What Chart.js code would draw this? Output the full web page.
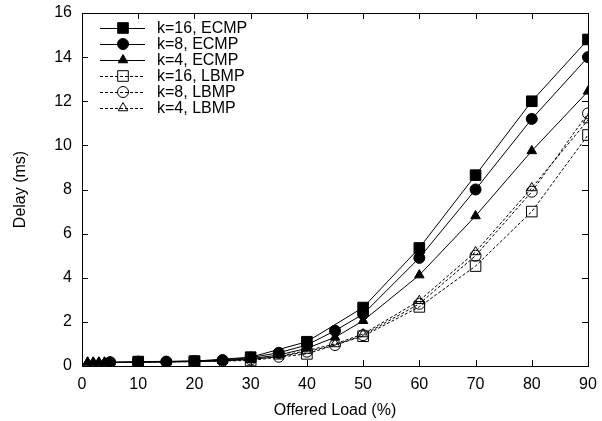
<!DOCTYPE html>
<html>
<head>
<meta charset="utf-8">
<script src="https://cdn.jsdelivr.net/npm/chart.js@4.4.1/dist/chart.umd.min.js"></script>
<style>
  body { margin: 0; background: #fff; }
  #wrap { width: 602px; height: 421px; }
</style>
</head>
<body>
<div id="wrap"><canvas id="myChart" width="602" height="421"></canvas></div>
<script>
// --- dados ---
var loadK16 = [10, 20, 30, 40, 50, 60, 70, 80, 90];
var loadK8  = [5, 10, 15, 20, 25, 30, 35, 40, 45, 50, 60, 70, 80, 90];
var loadK4  = [1, 2, 3, 4, 5, 10, 15, 20, 25, 30, 35, 40, 45, 50, 60, 70, 80, 90];

var ecmpK16 = [0.2, 0.22, 0.4, 1.1, 2.65, 5.35, 8.65, 12.0, 14.8];
var ecmpK8  = [0.17, 0.2, 0.2, 0.22, 0.27, 0.38, 0.6, 0.95, 1.6, 2.35, 4.9, 8.0, 11.2, 14.0];
var ecmpK4  = [0.17, 0.17, 0.17, 0.17, 0.17, 0.18, 0.2, 0.22, 0.25, 0.33, 0.5, 0.8, 1.3, 2.05, 4.12, 6.8, 9.75, 12.45];

var lbmpK16 = [0.17, 0.2, 0.25, 0.55, 1.35, 2.68, 4.53, 7.0, 10.47];
var lbmpK8  = [0.16, 0.17, 0.18, 0.2, 0.23, 0.3, 0.42, 0.65, 0.95, 1.4, 2.82, 5.0, 7.9, 11.45];
var lbmpK4  = [0.16, 0.16, 0.16, 0.16, 0.16, 0.17, 0.18, 0.2, 0.23, 0.3, 0.44, 0.7, 1.0, 1.45, 2.96, 5.17, 8.07, 11.15];

var xTicks = [0, 10, 20, 30, 40, 50, 60, 70, 80, 90];
var yTicks = [0, 2, 4, 6, 8, 10, 12, 14, 16];

function pts(xs, ys) {
  return xs.map(function (x, i) { return { x: x, y: ys[i] }; });
}

var FONT = 'Liberation Sans, Arial, sans-serif';
var FSIZE = 16;

function serie(label, xs, ys, style, radius, open, dashed, order) {
  return {
    label: label,
    data: pts(xs, ys),
    borderColor: '#000',
    borderWidth: 1,
    borderDash: dashed ? [3, 2] : [],
    pointStyle: style,
    pointRadius: radius,
    pointHoverRadius: radius,
    pointBorderWidth: 1,
    pointBorderColor: '#000',
    pointBackgroundColor: open ? 'rgba(0,0,0,0)' : '#000',
    fill: false,
    tension: 0,
    order: order
  };
}

var datasets = [
  serie('k=16, ECMP', loadK16, ecmpK16, 'rect', 7.5, false, false, 0),
  serie('k=8, ECMP', loadK8, ecmpK8, 'circle', 5.5, false, false, 1),
  serie('k=4, ECMP', loadK4, ecmpK4, 'triangle', 5.5, false, false, 2),
  serie('k=16, LBMP', loadK16, lbmpK16, 'rect', 7.5, true, true, 3),
  serie('k=8, LBMP', loadK8, lbmpK8, 'circle', 5.5, true, true, 4),
  serie('k=4, LBMP', loadK4, lbmpK4, 'triangle', 5.5, true, true, 5)
];

// moldura + ticks para dentro, estilo gnuplot
var frameTicks = {
  id: 'frameTicks',
  afterDatasetsDraw: function (chart) {
    var ctx = chart.ctx, a = chart.chartArea;
    var sx = chart.scales.x, sy = chart.scales.y;
    ctx.save();
    ctx.strokeStyle = '#000';
    ctx.lineWidth = 1;
    ctx.setLineDash([]);
    ctx.beginPath();
    xTicks.forEach(function (v) {
      var px = Math.round(sx.getPixelForValue(v)) + 0.5;
      ctx.moveTo(px, a.bottom); ctx.lineTo(px, a.bottom - 6);
      ctx.moveTo(px, a.top); ctx.lineTo(px, a.top + 6);
    });
    yTicks.forEach(function (v) {
      var py = Math.round(sy.getPixelForValue(v)) + 0.5;
      ctx.moveTo(a.left, py); ctx.lineTo(a.left + 6, py);
      ctx.moveTo(a.right, py); ctx.lineTo(a.right - 6, py);
    });
    ctx.stroke();
    ctx.strokeRect(Math.round(a.left) + 0.5, Math.round(a.top) + 0.5,
      Math.round(a.right - a.left), Math.round(a.bottom - a.top));
    ctx.restore();
  }
};

// legenda dentro do gráfico (linha + marcador)
var insideLegend = {
  id: 'insideLegend',
  afterDraw: function (chart) {
    var ctx = chart.ctx;
    var x0 = 100, x1 = 145, xm = 123, xt = 157, y0 = 28, dy = 16;
    ctx.save();
    chart.data.datasets.forEach(function (ds, i) {
      var y = y0 + i * dy;
      ctx.strokeStyle = '#000';
      ctx.lineWidth = 1;
      ctx.setLineDash(ds.borderDash);
      ctx.beginPath();
      ctx.moveTo(x0, y + 0.5); ctx.lineTo(x1, y + 0.5);
      ctx.stroke();
      ctx.setLineDash([]);
      ctx.fillStyle = ds.pointBackgroundColor;
      Chart.helpers.drawPoint(ctx, {
        pointStyle: ds.pointStyle,
        radius: ds.pointRadius,
        borderWidth: 1,
        rotation: 0
      }, xm, y);
      ctx.fillStyle = '#000';
      ctx.font = FSIZE + 'px ' + FONT;
      ctx.textBaseline = 'middle';
      ctx.textAlign = 'left';
      ctx.fillText(ds.label, xt, y + 1);
    });
    ctx.restore();
  }
};

var ctx = document.getElementById('myChart').getContext('2d');
new Chart(ctx, {
  type: 'line',
  data: { datasets: datasets },
  plugins: [frameTicks, insideLegend],
  options: {
    responsive: false,
    animation: false,
    layout: { padding: { left: 0, right: 14, top: 13, bottom: 0 } },
    plugins: {
      legend: { display: false },
      tooltip: { enabled: false }
    },
    scales: {
      x: {
        type: 'linear',
        min: 0, max: 90,
        afterBuildTicks: function (s) { s.ticks = xTicks.map(function (v) { return { value: v }; }); },
        afterFit: function (s) { s.height = 55; s.paddingLeft = 0; s.paddingRight = 0; },
        grid: { display: false, drawTicks: false },
        border: { display: false },
        ticks: { color: '#000', font: { family: FONT, size: FSIZE }, padding: 9, maxRotation: 0 },
        title: { display: true, text: 'Offered Load (%)', color: '#000', font: { family: FONT, size: FSIZE }, padding: { top: 2, bottom: 1 } }
      },
      y: {
        min: 0, max: 16,
        afterBuildTicks: function (s) { s.ticks = yTicks.map(function (v) { return { value: v }; }); },
        afterFit: function (s) { s.width = 82; s.paddingTop = 0; s.paddingBottom = 0; },
        grid: { display: false, drawTicks: false },
        border: { display: false },
        ticks: { color: '#000', font: { family: FONT, size: FSIZE }, padding: 10 },
        title: { display: true, text: 'Delay (ms)', color: '#000', font: { family: FONT, size: FSIZE }, padding: { top: 11, bottom: 2 } }
      }
    }
  }
});
</script>
</body>
</html>
